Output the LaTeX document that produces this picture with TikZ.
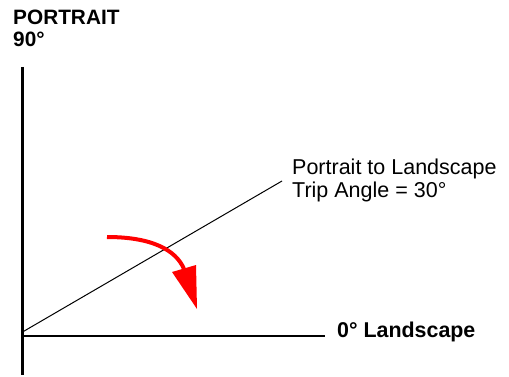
\documentclass[tikz,border=0pt]{standalone}
\usepackage{fontspec}
\setmainfont{Liberation Sans}
\begin{document}
\begin{tikzpicture}[x=1pt,y=-1pt,
  axis/.style={line width=2.8pt},
  boldlabel/.style={font=\fontsize{20.8}{23}\selectfont\bfseries, anchor=base west, inner sep=0pt},
  plainlabel/.style={font=\fontsize{21.5}{23}\selectfont, anchor=base west, inner sep=0pt},
  redarrow/.style={red, line width=4pt}]
\useasboundingbox (0,0) rectangle (509,377);
\coordinate (vtop) at (22.5,67);
\coordinate (vbot) at (22.5,375);
\coordinate (origin) at (22.5,336);
\coordinate (hend) at (325,336);
\coordinate (dstart) at (22.5,332);
\coordinate (dend) at (282,181);
\draw[axis] (vtop) -- (vbot);
\draw[axis] (origin) -- (hend);
\draw[line width=1pt] (dstart) -- (dend);
\node[boldlabel] (portrait) at (13,24.5) {PORTRAIT};
\node[boldlabel] (ninety) at (13,47) {90°};
\node[boldlabel, font=\fontsize{21.4}{23}\selectfont\bfseries] (landscape) at (337,337.5) {0° Landscape};
\node[plainlabel] (trip1) at (292,174.5) {Portrait to Landscape};
\node[plainlabel] (trip2) at (292,197.5) {Trip Angle = 30°};
\coordinate (astart) at (107,237);
\coordinate (aend) at (184,269);
\draw[redarrow] (astart) .. controls (152,237) and (176,250) .. (aend);
\fill[red] (172,272) -- (196,265) -- (197,309) -- cycle;
\end{tikzpicture}
\end{document}
